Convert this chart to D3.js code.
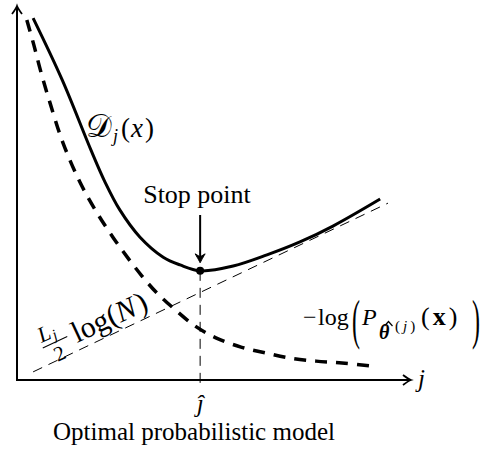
<!DOCTYPE html>
<html>
<head>
<meta charset="utf-8">
<script src="https://cdn.jsdelivr.net/npm/d3@7"></script>
<style>
body { margin: 0; background: #fff; }
text { font-family: "Liberation Serif", "Times New Roman", serif; fill: #000; }
.it { font-style: italic; }
</style>
</head>
<body>
<div id="chart"></div>
<script>
// values: model order j vs. cost
const fitJ    = [0.25, 0.43, 0.61, 0.84, 1.17, 1.60, 2.04, 2.44, 2.82, 3.18, 3.56, 3.97, 4.53, 5.06, 5.70, 6.34, 6.97, 7.61, 8.27, 8.98];
const fitCost = [9.73, 9.05, 8.32, 7.49, 6.41, 5.35, 4.51, 3.86, 3.30, 2.81, 2.35, 1.95, 1.46, 1.14, 0.89, 0.73, 0.59, 0.51, 0.46, 0.38];

const totalJ    = [0.41, 1.15, 1.88, 2.24, 2.62, 3.13, 3.72, 4.15, 4.66, 5.50, 6.36, 7.20, 8.04, 9.24];
const totalCost = [9.78, 8.11, 6.22, 5.35, 4.59, 3.86, 3.32, 3.11, 2.95, 3.08, 3.38, 3.73, 4.16, 4.89];

const penaltyJ    = [0.41, 9.44];
const penaltyCost = [0.22, 4.78];

const jHat = 4.66;
const stopCost = 2.95;

const width = 484;
const height = 458;
const margin = {top: 10, right: 74, bottom: 78, left: 17};

const svg = d3.select('#chart')
    .append('svg')
        .attr('width', width)
        .attr('height', height);

const x = d3.scaleLinear()
    .domain([0, 10])
    .range([margin.left, width - margin.right]);

const y = d3.scaleLinear()
    .domain([0, 10])
    .range([height - margin.bottom, margin.top]);

const line = d3.line()
    .x(d => x(d[0]))
    .y(d => y(d[1]))
    .curve(d3.curveCatmullRom.alpha(0.5));

// penalty term (thin dashed straight line)
svg.append('path')
    .datum(d3.zip(penaltyJ, penaltyCost))
    .attr('d', d3.line().x(d => x(d[0])).y(d => y(d[1])))
    .attr('fill', 'none')
    .attr('stroke', '#000')
    .attr('stroke-width', 1)
    .attr('stroke-dasharray', '10,7');

// fit term (thick dashed)
svg.append('path')
    .datum(d3.zip(fitJ, fitCost))
    .attr('d', line)
    .attr('fill', 'none')
    .attr('stroke', '#000')
    .attr('stroke-width', 3.5)
    .attr('stroke-dasharray', '12,9');

// total description length
svg.append('path')
    .datum(d3.zip(totalJ, totalCost))
    .attr('d', line)
    .attr('fill', 'none')
    .attr('stroke', '#000')
    .attr('stroke-width', 3);

// j hat drop line
svg.append('line')
    .attr('x1', x(jHat)).attr('x2', x(jHat))
    .attr('y1', y(stopCost)).attr('y2', y(0) + 4)
    .attr('stroke', '#000')
    .attr('stroke-width', 1)
    .attr('stroke-dasharray', '10,7');

svg.append('circle')
    .attr('cx', x(jHat))
    .attr('cy', y(stopCost))
    .attr('r', 4)
    .attr('fill', '#000');

// axes with latex style arrow heads
const head = 'M-8,-5 C-4,-2 -1.5,-0.5 0,0 C-1.5,0.5 -4,2 -8,5';
svg.append('line')
    .attr('x1', x(0)).attr('x2', x(0))
    .attr('y1', y(0) + 1).attr('y2', 6)
    .attr('stroke', '#000').attr('stroke-width', 2);
svg.append('path')
    .attr('d', head)
    .attr('transform', `translate(${x(0)},6) rotate(-90)`)
    .attr('fill', 'none').attr('stroke', '#000').attr('stroke-width', 1.8);
svg.append('line')
    .attr('x1', x(0) - 1).attr('x2', 411)
    .attr('y1', y(0)).attr('y2', y(0))
    .attr('stroke', '#000').attr('stroke-width', 2);
svg.append('path')
    .attr('d', head)
    .attr('transform', `translate(411,${y(0)})`)
    .attr('fill', 'none').attr('stroke', '#000').attr('stroke-width', 1.8);

// stop point arrow
svg.append('line')
    .attr('x1', x(jHat)).attr('x2', x(jHat))
    .attr('y1', 215).attr('y2', y(stopCost) - 10)
    .attr('stroke', '#000').attr('stroke-width', 2);
svg.append('path')
    .attr('d', 'M-5,-9 C-2,-4 -0.5,-1 0,0 C0.5,-1 2,-4 5,-9 L0,-6 Z')
    .attr('transform', `translate(${x(jHat)},${y(stopCost) - 8})`)
    .attr('fill', '#000').attr('stroke', '#000').attr('stroke-width', 1);

svg.append('text')
    .attr('x', 197).attr('y', 203)
    .attr('text-anchor', 'middle')
    .attr('font-size', 26)
    .text('Stop point');

// axis labels
svg.append('text')
    .attr('class', 'it')
    .attr('x', 418).attr('y', 387)
    .attr('font-size', 25)
    .text('j');

svg.append('text')
    .attr('class', 'it')
    .attr('x', x(jHat)).attr('y', 412)
    .attr('text-anchor', 'middle')
    .attr('font-size', 25)
    .text('ĵ');

svg.append('text')
    .attr('x', 194).attr('y', 440)
    .attr('text-anchor', 'middle')
    .attr('font-size', 25)
    .text('Optimal probabilistic model');

// D_j(x)
const dj = svg.append('text').attr('x', 86).attr('y', 137).attr('font-size', 27);
dj.append('tspan').attr('font-family', 'DejaVu Serif, DejaVu Sans, serif').attr('font-size', 32).text('𝒟');
dj.append('tspan').attr('class', 'it').attr('font-size', 18).attr('dy', 5).attr('dx', 1).text('j');
dj.append('tspan').attr('dy', -5).attr('dx', 3).text('(');
dj.append('tspan').attr('class', 'it').attr('dx', 1).text('x');
dj.append('tspan').attr('dx', 2).text(')');

// L_j/2 log(N), along the penalty line
const lab = svg.append('g').attr('transform', 'translate(47,357) rotate(-25)');
const num = lab.append('text').attr('x', 1).attr('y', -15).attr('font-size', 22);
num.append('tspan').attr('class', 'it').text('L');
num.append('tspan').attr('class', 'it').attr('font-size', 15).attr('dy', 3).attr('dx', 1).text('j');
lab.append('line')
    .attr('x1', 0).attr('x2', 27).attr('y1', -10).attr('y2', -10)
    .attr('stroke', '#000').attr('stroke-width', 1);
lab.append('text').attr('x', 13).attr('y', 9).attr('text-anchor', 'middle').attr('font-size', 21).text('2');
const lg = lab.append('text').attr('x', 33).attr('y', 0).attr('font-size', 30);
lg.append('tspan').text('log(');
lg.append('tspan').attr('class', 'it').text('N');
lg.append('tspan').attr('dx', 2).text(')');

// -log(P_theta(x))
svg.append('text').attr('x', 303).attr('y', 325).attr('font-size', 24).text('\u2212');
svg.append('text').attr('x', 318).attr('y', 325).attr('font-size', 24).text('log');
svg.append('text').attr('transform', 'translate(352,324) scale(1,2.3)')
    .attr('y', 6).attr('font-size', 24).text('(');
svg.append('text').attr('class', 'it').attr('x', 362).attr('y', 325).attr('font-size', 24).text('P');
svg.append('text').attr('class', 'it').attr('x', 379).attr('y', 339)
    .attr('font-size', 20).attr('font-weight', 'bold').text('θ');
// accent hat over theta
svg.append('path')
    .attr('d', 'M384.5,326 L388.5,321.5 L392.5,326')
    .attr('fill', 'none').attr('stroke', '#000').attr('stroke-width', 1.2);
const sup = svg.append('text').attr('x', 395).attr('y', 331)
    .attr('font-size', 15).attr('letter-spacing', 3);
sup.append('tspan').text('(');
sup.append('tspan').attr('class', 'it').text('j');
sup.append('tspan').text(')');
const px = svg.append('text').attr('x', 421).attr('y', 325).attr('font-size', 26).attr('letter-spacing', 3);
px.append('tspan').text('(');
px.append('tspan').attr('font-weight', 'bold').text('x');
px.append('tspan').text(')');
svg.append('text').attr('transform', 'translate(472,324) scale(1,2.3)')
    .attr('y', 6).attr('font-size', 24).text(')');
</script>
</body>
</html>
